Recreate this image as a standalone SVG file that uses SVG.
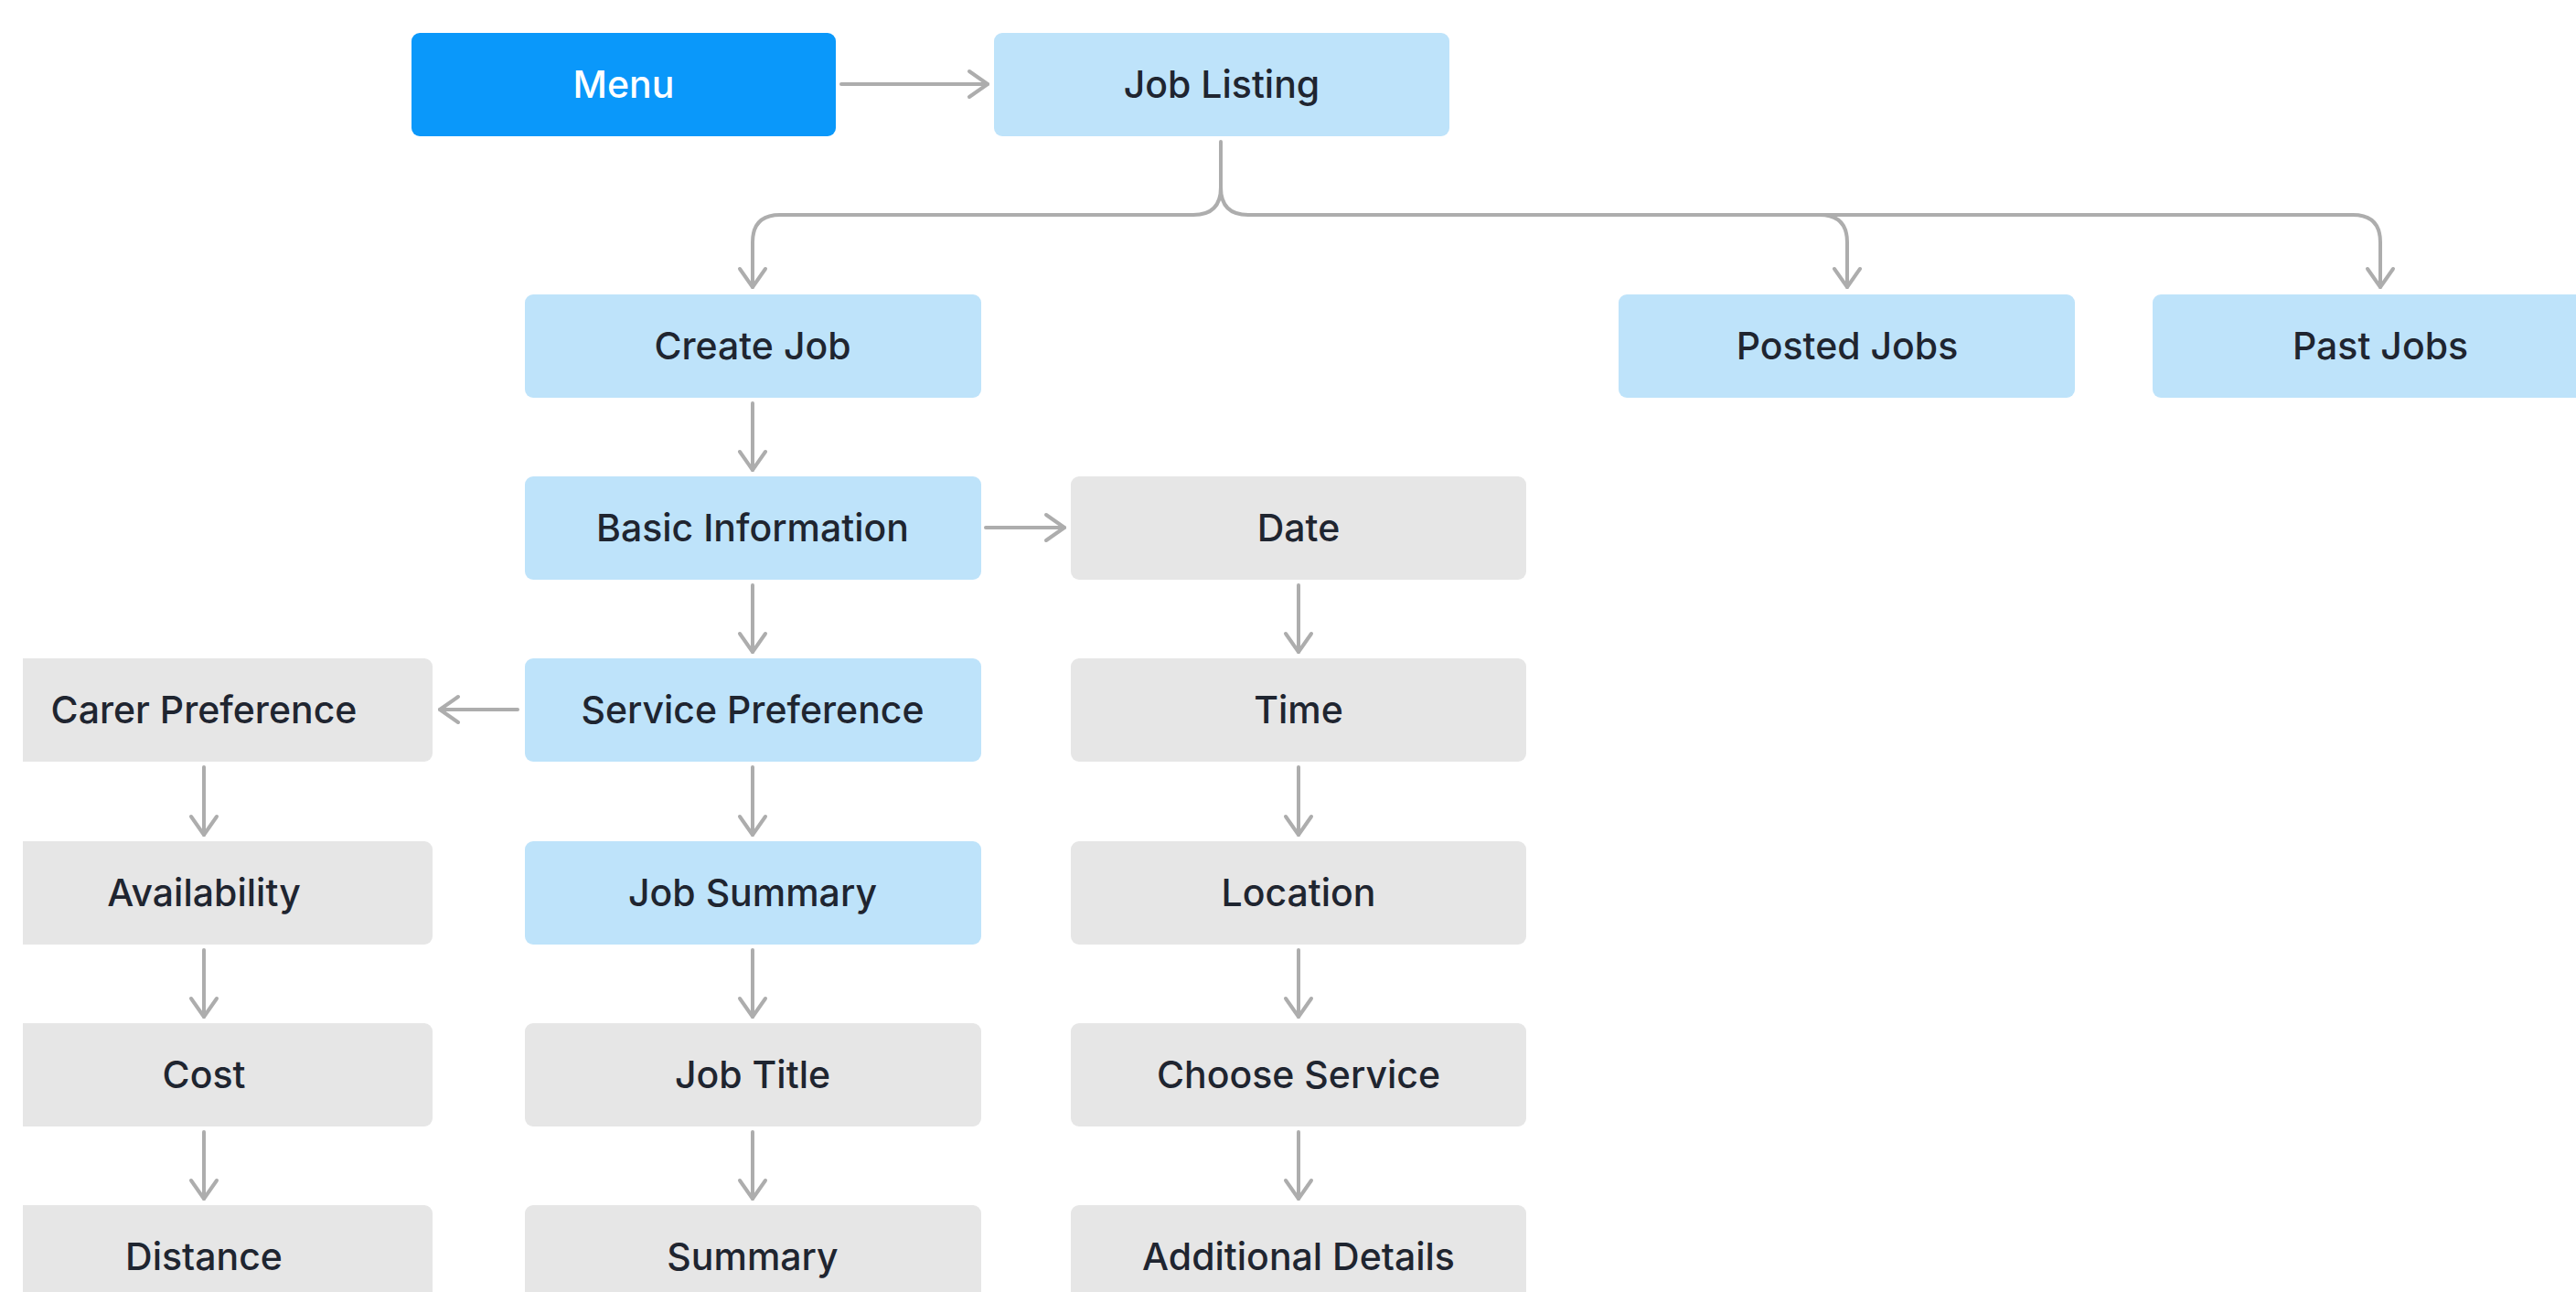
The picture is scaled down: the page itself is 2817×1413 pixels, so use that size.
<svg xmlns="http://www.w3.org/2000/svg" width="2817" height="1413" viewBox="0 0 2817 1413">
<style>
.blue{fill:#BEE3FA}
.gray{fill:#E6E6E6}
.dark{fill:#0A98FA}
text{font-family:Inter,"Liberation Sans",sans-serif;font-size:41px;font-weight:500;fill:#1F2530;text-anchor:middle;dominant-baseline:central}
.w{fill:#FFFFFF}
.c{fill:none;stroke:#ADADAD;stroke-width:4;stroke-linecap:round;stroke-linejoin:round}
</style>
<defs>
<marker id="ah" markerUnits="userSpaceOnUse" markerWidth="40" markerHeight="40" viewBox="-30 -20 40 40" refX="0" refY="0" orient="auto">
<path d="M-20,-14 L0,0 L-20,14" fill="none" stroke="#ADADAD" stroke-width="4" stroke-linecap="round" stroke-linejoin="round"/>
</marker>
</defs>
<rect width="2817" height="1413" fill="#FFFFFF"/>
<g id="connectors">
<path class="c" d="M920,92 H1080" marker-end="url(#ah)"/>
<path class="c" d="M1335,155 V205 Q1335,235 1305,235 H853 Q823,235 823,265 V314" marker-end="url(#ah)"/>
<path class="c" d="M1335,205 Q1335,235 1365,235 H1990 Q2020,235 2020,265 V314" marker-end="url(#ah)"/>
<path class="c" d="M1990,235 H2573 Q2603,235 2603,265 V314" marker-end="url(#ah)"/>
<path class="c" d="M823,441 V514" marker-end="url(#ah)"/>
<path class="c" d="M1078,577 H1164" marker-end="url(#ah)"/>
<path class="c" d="M823,640 V713" marker-end="url(#ah)"/>
<path class="c" d="M566,776 H481" marker-end="url(#ah)"/>
<path class="c" d="M823,839 V913" marker-end="url(#ah)"/>
<path class="c" d="M823,1039 V1112" marker-end="url(#ah)"/>
<path class="c" d="M823,1238 V1311" marker-end="url(#ah)"/>
<path class="c" d="M1420,640 V713" marker-end="url(#ah)"/>
<path class="c" d="M1420,839 V913" marker-end="url(#ah)"/>
<path class="c" d="M1420,1039 V1112" marker-end="url(#ah)"/>
<path class="c" d="M1420,1238 V1311" marker-end="url(#ah)"/>
<path class="c" d="M223,839 V913" marker-end="url(#ah)"/>
<path class="c" d="M223,1039 V1112" marker-end="url(#ah)"/>
<path class="c" d="M223,1238 V1311" marker-end="url(#ah)"/>
</g>
<g id="menu"><rect class="dark" x="450" y="36" width="464" height="113" rx="9"/><text class="w" x="682" y="92">Menu</text></g>
<g id="job-listing"><rect class="blue" x="1087" y="36" width="498" height="113" rx="9"/><text x="1336" y="92">Job Listing</text></g>
<g id="create-job"><rect class="blue" x="574" y="322" width="499" height="113" rx="9"/><text x="823" y="378">Create Job</text></g>
<g id="posted-jobs"><rect class="blue" x="1770" y="322" width="499" height="113" rx="9"/><text x="2020" y="378">Posted Jobs</text></g>
<g id="past-jobs"><rect class="blue" x="2354" y="322" width="500" height="113" rx="9"/><text x="2603" y="378">Past Jobs</text></g>
<g id="basic-information"><rect class="blue" x="574" y="521" width="499" height="113" rx="9"/><text x="823" y="577">Basic Information</text></g>
<g id="date"><rect class="gray" x="1171" y="521" width="498" height="113" rx="9"/><text x="1420" y="577">Date</text></g>
<g id="carer-preference"><rect class="gray" x="-27" y="720" width="500" height="113" rx="9"/><text x="223" y="776">Carer Preference</text></g>
<g id="service-preference"><rect class="blue" x="574" y="720" width="499" height="113" rx="9"/><text x="823" y="776">Service Preference</text></g>
<g id="time"><rect class="gray" x="1171" y="720" width="498" height="113" rx="9"/><text x="1420" y="776">Time</text></g>
<g id="availability"><rect class="gray" x="-27" y="920" width="500" height="113" rx="9"/><text x="223" y="976">Availability</text></g>
<g id="job-summary"><rect class="blue" x="574" y="920" width="499" height="113" rx="9"/><text x="823" y="976">Job Summary</text></g>
<g id="location"><rect class="gray" x="1171" y="920" width="498" height="113" rx="9"/><text x="1420" y="976">Location</text></g>
<g id="cost"><rect class="gray" x="-27" y="1119" width="500" height="113" rx="9"/><text x="223" y="1175">Cost</text></g>
<g id="job-title"><rect class="gray" x="574" y="1119" width="499" height="113" rx="9"/><text x="823" y="1175">Job Title</text></g>
<g id="choose-service"><rect class="gray" x="1171" y="1119" width="498" height="113" rx="9"/><text x="1420" y="1175">Choose Service</text></g>
<g id="distance"><rect class="gray" x="-27" y="1318" width="500" height="113" rx="9"/><text x="223" y="1374">Distance</text></g>
<g id="summary"><rect class="gray" x="574" y="1318" width="499" height="113" rx="9"/><text x="823" y="1374">Summary</text></g>
<g id="additional-details"><rect class="gray" x="1171" y="1318" width="498" height="113" rx="9"/><text x="1420" y="1374">Additional Details</text></g>
<rect x="0" y="0" width="25" height="1413" fill="#FFFFFF"/>
</svg>
